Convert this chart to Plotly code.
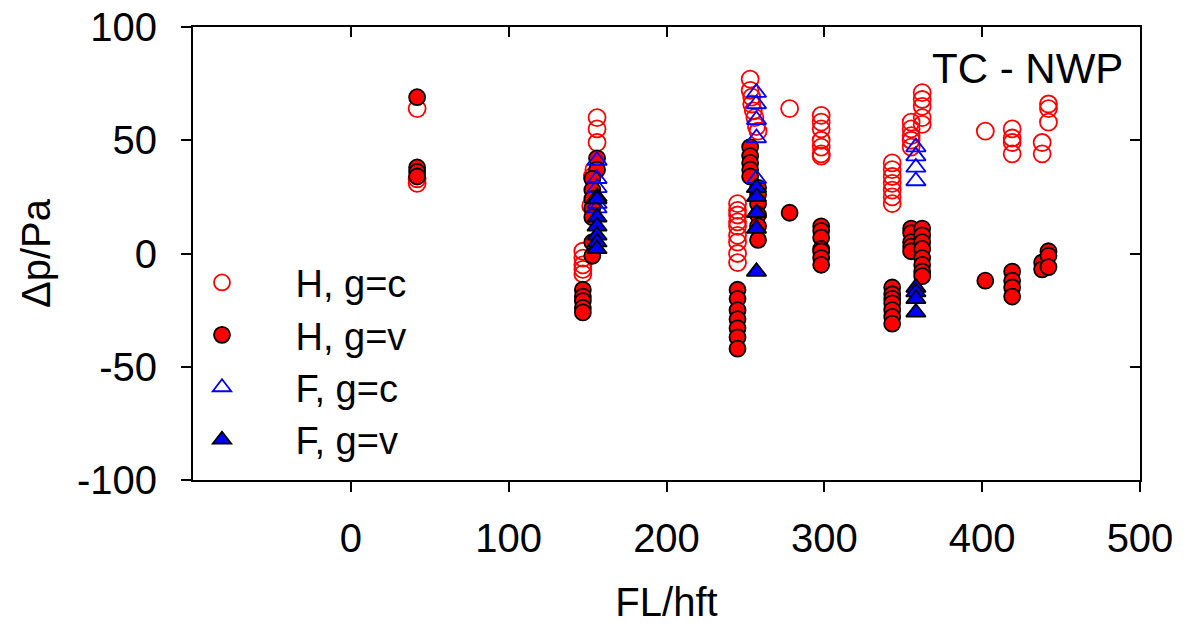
import plotly.graph_objects as go

# ---- data ----
hc_x = [42, 42, 42,
        156, 156, 156, 154, 153, 152, 147, 147, 147, 147, 147,
        253, 253, 254, 254, 255, 256, 257, 258,
        245, 245, 245, 245, 245, 245, 245, 245, 245,
        278,
        298, 298, 298, 298, 298, 298, 298,
        343, 343, 343, 343, 343, 343, 343,
        355, 355, 355, 355, 355, 362, 362, 362, 362, 362,
        402, 419, 419, 419, 419, 438, 438, 442, 442, 442]
hc_y = [64, 33, 31,
        60, 55, 49, 37, 34, 21, 1, -2, -5, -7, -9,
        77, 72, 69, 66, 63, 60, 56, 54,
        22, 19, 17, 14, 12, 8, 5, 0, -4,
        64,
        61, 58, 55, 50, 47, 44, 43,
        40, 37, 34, 31, 28, 25, 22,
        58, 55, 52, 50, 47, 71, 68, 65, 60, 57,
        54, 55, 51, 49, 44, 49, 44, 66, 64, 58]

hv_x = [42, 42, 42, 42,
        156, 156, 153, 153, 153, 153, 153, 153, 153, 147, 147, 147, 147, 147,
        253, 253, 253, 253, 253, 258, 258, 258, 258, 258, 258,
        245, 245, 245, 245, 245, 245, 245,
        278,
        298, 298, 298, 298, 298, 298, 298,
        343, 343, 343, 343, 343, 343, 343,
        355, 355, 355, 355, 355, 362, 362, 362, 362, 362, 362, 362, 362,
        402, 419, 419, 419, 419, 438, 438, 442, 442, 442]
hv_y = [69, 38, 36, 34,
        42, 37, 33, 28, 24, 20, 16, 5, -1, -16, -19, -21, -24, -26,
        47, 43, 40, 37, 34, 29, 26, 22, 17, 12, 6,
        -16, -20, -25, -29, -33, -37, -42,
        18,
        12, 10, 7, 2, 1, -2, -5,
        -15, -18, -20, -22, -25, -28, -31,
        11, 9, 5, 3, 1, 11, 8, 5, 2, -2, -5, -8, -10,
        -12, -8, -12, -15, -19, -4, -7, 1, -1, -6]

fc_x = [156, 156, 156, 156, 156,
        257, 257, 257, 257, 257,
        358, 358, 358, 358]
fc_y = [41, 33, 29, 22, 20,
        71, 66, 59, 51, 33,
        47, 43, 38, 32]

fv_x = [156, 156, 156, 156, 156, 156, 156,
        257, 257, 257, 257, 257,
        358, 358, 358, 358]
fv_y = [25, 24, 16, 12, 8, 5, 2,
        29, 25, 18, 11, -8,
        -15, -17, -20, -26]

x_ticks = [0, 100, 200, 300, 400, 500]
x_labels = ["0", "100", "200", "300", "400", "500"]
y_ticks = [-100, -50, 0, 50, 100]
y_labels = ["-100", "-50", "0", "50", "100"]

FONT = "Liberation Sans, Arial, sans-serif"
FS = 40

fig = go.Figure()
fig.add_trace(go.Scatter(x=hc_x, y=hc_y, mode="markers", name="H, g=c",
                         marker=dict(symbol="circle-open", size=17, color="#ff0000",
                                     line=dict(width=1.8, color="#ff0000"))))
fig.add_trace(go.Scatter(x=hv_x, y=hv_y, mode="markers", name="H, g=v",
                         marker=dict(symbol="circle", size=16, color="#ff0000",
                                     line=dict(width=1.8, color="#000000"))))
fig.add_trace(go.Scatter(x=fc_x, y=fc_y, mode="markers", name="F, g=c",
                         marker=dict(symbol="triangle-up-open", size=17, color="#0000ff",
                                     line=dict(width=1.8, color="#0000ff"))))
fig.add_trace(go.Scatter(x=fv_x, y=fv_y, mode="markers", name="F, g=v",
                         marker=dict(symbol="triangle-up", size=17, color="#0000ff",
                                     line=dict(width=1.8, color="#000000"))))

axis_common = dict(showgrid=False, zeroline=False, showline=True, linecolor="black",
                   linewidth=2, ticks="outside", ticklen=10, tickwidth=2,
                   tickcolor="black", automargin=False,
                   tickfont=dict(family=FONT, size=FS, color="black"))

fig.update_layout(
    width=1196, height=626,
    margin=dict(l=193, r=56, t=27, b=146),
    paper_bgcolor="white", plot_bgcolor="white",
    font=dict(family=FONT, size=FS, color="black"),
    showlegend=True,
    legend=dict(x=-0.047, y=0.505, xanchor="left", yanchor="top",
                bgcolor="rgba(0,0,0,0)", itemwidth=137,
                font=dict(family=FONT, size=38, color="black"),
                tracegroupgap=0),
    xaxis=dict(range=[-100, 500], tickvals=x_ticks, ticktext=x_labels,
               ticklabelstandoff=12,
               title=dict(text="FL/hft", standoff=29,
                          font=dict(family=FONT, size=FS)),
               **axis_common),
    yaxis=dict(range=[-100, 100], tickvals=y_ticks, ticktext=y_labels,
               ticklabelstandoff=16,
               title=dict(text="Δp/Pa", standoff=14,
                          font=dict(family=FONT, size=FS)),
               **axis_common),
    xaxis2=dict(overlaying="x", side="top", range=[-100, 500], tickvals=x_ticks,
                showticklabels=False, showgrid=False, zeroline=False, showline=True,
                linecolor="black", linewidth=2, ticks="inside", ticklen=10,
                tickwidth=2, tickcolor="black", automargin=False),
    yaxis2=dict(overlaying="y", side="right", range=[-100, 100], tickvals=y_ticks,
                showticklabels=False, showgrid=False, zeroline=False, showline=True,
                linecolor="black", linewidth=2, ticks="inside", ticklen=10,
                tickwidth=2, tickcolor="black", automargin=False),
    annotations=[dict(text="TC - NWP", xref="paper", yref="paper", x=0.984, y=0.965,
                      xanchor="right", yanchor="top", showarrow=False,
                      font=dict(family=FONT, size=42, color="black"))],
    shapes=[dict(type="line", xref="paper", yref="paper", x0=-10/947, x1=0, y0=0, y1=0,
                 line=dict(color="black", width=2)),
            dict(type="line", xref="paper", yref="paper", x0=-10/947, x1=0, y0=1, y1=1,
                 line=dict(color="black", width=2))],
)
# invisible trace to activate the mirror axes
fig.add_trace(go.Scatter(x=[None], y=[None], xaxis="x2", yaxis="y2",
                         showlegend=False, hoverinfo="skip"))

fig.write_html("out.html")
